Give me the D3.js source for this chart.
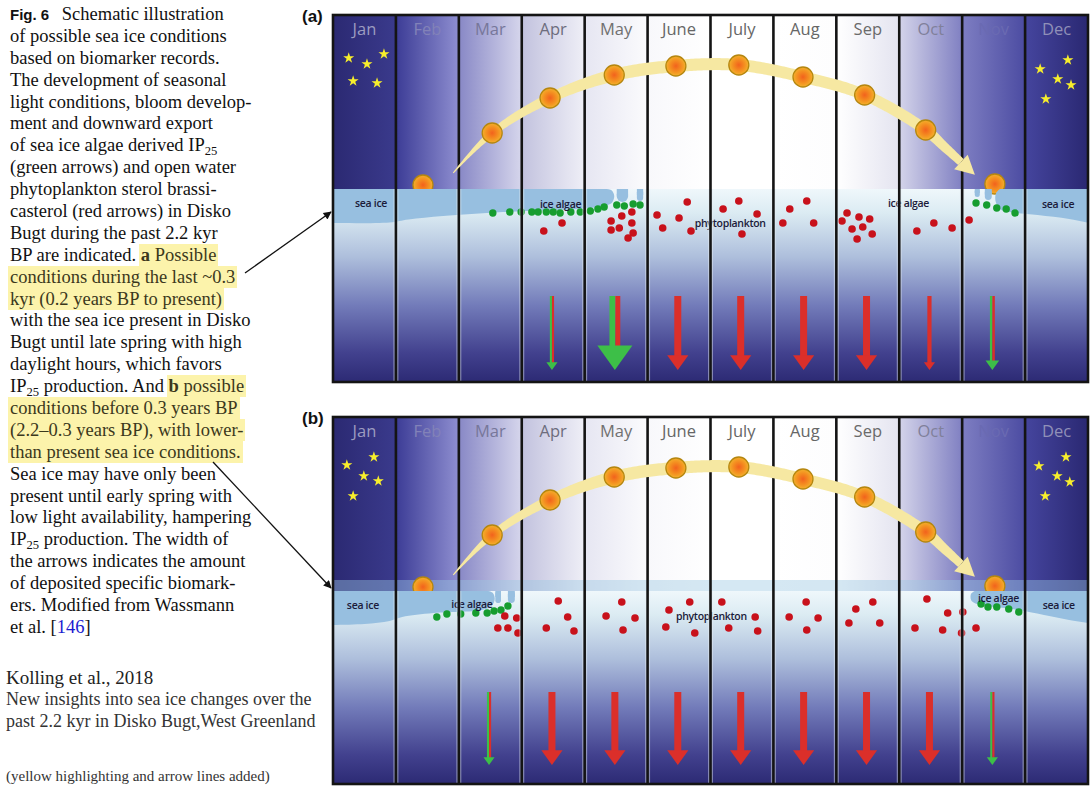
<!DOCTYPE html>
<html lang="en">
<head>
<meta charset="UTF-8">
<script src="https://d3js.org/d3.v7.min.js"></script>
<title>Schematic sea ice conditions, Disko Bugt</title>
<style>
    body { margin: 0; background: #fff; }
    #page { position: relative; width: 1092px; height: 796px; overflow: hidden; }
    #caption {
        position: absolute; left: 10px; top: 4px;
        font-family: "Liberation Serif", "Times New Roman", serif;
        font-size: 18.5px; line-height: 21.9px; color: #111; white-space: nowrap;
    }
    #caption .line { height: 21.9px; }
    .hl { background: #fcf3ab; color: #3b381c; padding: 1px 2px; margin: 0 -2px; }
    sub { font-size: 0.68em; line-height: 0; vertical-align: -0.28em; }
    .fig { font-family: "Liberation Sans", Arial, sans-serif; font-weight: bold; font-size: 15px; margin-right: 8px; }
    .ref { color: #1b1bd0; }
    .src { position: absolute; left: 6px; font-family: "Liberation Serif", "Times New Roman", serif; white-space: nowrap; }
    svg { position: absolute; left: 0; top: 0; }
</style>
</head>
<body>
<div id="page">
    <div id="caption"></div>
</div>
<script>
    const months = ["Jan", "Feb", "Mar", "Apr", "May", "June", "July", "Aug", "Sep", "Oct", "Nov", "Dec"];

    // sun: position in months (0 = start of Jan) and elevation above the sea surface
    const sunMonth = [1.43, 2.53, 3.45, 4.47, 5.45, 6.45, 7.47, 8.45, 9.42, 10.52];
    const sunElev  = [4, 56, 91, 114, 123, 124, 112, 94, 59, 5];
    const sunTrack = [[1.91, 16], [2.53, 56], [3.45, 91], [4.47, 114], [5.45, 123], [6.45, 124],
                      [7.47, 112], [8.45, 94], [9.42, 59], [9.72, 42], [9.98, 27]];

    // stars [month, elevation]
    const starsA = [[0.25, 131], [0.54, 125], [0.81, 135], [0.32, 108], [0.70, 106],
                    [11.24, 120], [11.68, 129], [11.52, 110], [11.73, 104], [11.33, 90]];
    const starsB = [[0.22, 126], [0.65, 134], [0.49, 115], [0.72, 110], [0.32, 95],
                    [11.22, 125], [11.65, 134], [11.51, 115], [11.71, 109], [11.32, 95]];

    // ice algae (green) and phytoplankton (red) cells [month, depth below surface]
    const greenA = [[2.54, 24], [2.81, 23], [2.99, 23], [3.16, 23], [3.26, 23], [3.39, 23], [3.50, 23],
                    [3.61, 24], [3.78, 23], [3.93, 23], [4.09, 22], [4.21, 20], [4.31, 18], [4.51, 16],
                    [4.63, 17], [4.77, 15], [4.88, 16],
                    [10.22, 14], [10.39, 16], [10.55, 19], [10.70, 20], [10.84, 24]];
    const redA = [[3.35, 42], [3.64, 34], [4.42, 32], [4.59, 27], [4.75, 23], [4.75, 34], [4.42, 41],
                  [4.55, 39], [4.77, 44], [4.69, 49],
                  [5.63, 13], [5.15, 26], [5.50, 29], [5.24, 39], [5.69, 42],
                  [6.45, 12], [6.20, 20], [6.74, 25], [6.50, 45],
                  [7.53, 12], [7.26, 20], [7.15, 34], [7.64, 34],
                  [8.17, 24], [8.36, 28], [8.53, 30], [8.09, 32], [8.42, 38], [8.25, 40], [8.57, 45], [8.33, 50],
                  [9.55, 34], [9.28, 42], [9.84, 39], [10.11, 31]];
    const greenB = [[1.65, 26], [1.81, 23], [2.03, 23], [2.27, 22], [2.45, 22], [2.56, 20], [2.67, 19], [2.78, 15],
                    [10.30, 13], [10.41, 16], [10.55, 16], [10.74, 18], [10.90, 21]];
    const redB = [[2.73, 25], [2.92, 27], [2.62, 37], [2.78, 37], [2.94, 42],
                  [3.58, 10], [3.73, 26], [3.39, 37], [3.83, 40],
                  [4.59, 11], [4.34, 25], [4.80, 27], [4.61, 39],
                  [5.67, 11], [5.34, 19], [5.29, 36], [5.75, 42],
                  [6.18, 11], [6.71, 26], [6.29, 37], [6.75, 40],
                  [7.52, 11], [7.25, 26], [7.71, 27], [7.53, 39],
                  [8.58, 11], [8.31, 18], [8.20, 32], [8.69, 32],
                  [9.44, 8], [9.77, 22], [9.25, 37], [9.69, 39], [10.01, 21], [9.99, 42], [10.22, 37]];

    // export of biomarkers per month (relative), drawn as arrow widths
    const redExportA   = [0, 0, 0, 0.3, 0.7, 1, 1, 1, 1, 0.6, 0.35, 0];
    const greenExportA = [0, 0, 0, 0.3, 0.85, 0, 0, 0, 0, 0, 0.35, 0];
    const redExportB   = [0, 0, 0.3, 1, 1, 1, 1, 1, 1, 1, 0.3, 0];
    const greenExportB = [0, 0, 0.3, 0, 0, 0, 0, 0, 0, 0, 0.3, 0];

    // sea ice outlines [month, depth]: from the ice edge at the surface round to the panel side
    const iceA = [
        [[4.35, 0], [4.43, 1.5], [4.47, 7], [4.43, 14], [4.3, 17], [3.9, 20], [2.7, 23],
         [1.75, 27], [1.2, 30.5], [0.9, 33.5], [-0.1, 34]],
        [[10.6, 0], [10.54, 4], [10.53, 12], [10.6, 20], [10.75, 23], [11.2, 26], [11.7, 30], [12.1, 35]]
    ];
    const floesA = [[4.51, 4.69, 13], [4.83, 4.93, 12], [10.20, 10.28, 8], [10.36, 10.47, 11]];
    const iceB = [
        [[2.47, 0], [2.54, 2], [2.57, 8], [2.52, 15], [2.36, 19], [1.6, 22], [1.1, 26],
         [0.9, 30], [0.5, 33], [-0.1, 34]],
        [[10.2, 0], [10.14, 3], [10.15, 10], [10.3, 14], [10.8, 18], [11.3, 24], [11.7, 29], [12.1, 33]]
    ];
    const floesB = [[2.58, 2.67, 12], [2.78, 2.89, 12]];

    const labelsA = [["sea ice", 0.35, 14], ["ice algae", 3.29, 15], ["phytoplankton", 5.75, 34],
                     ["ice algae", 8.82, 14], ["sea ice", 11.27, 15]];
    const labelsB = [["sea ice", 0.22, 14], ["ice algae", 1.88, 13], ["phytoplankton", 5.45, 25],
                     ["ice algae", 10.25, 7], ["sea ice", 11.28, 14]];

    const captionLines = [
        '<span class="fig">Fig. 6</span> Schematic illustration',
        'of possible sea ice conditions',
        'based on biomarker records.',
        'The development of seasonal',
        'light conditions, bloom develop-',
        'ment and downward export',
        'of sea ice algae derived IP<sub>25</sub>',
        '(green arrows) and open water',
        'phytoplankton sterol brassi-',
        'casterol (red arrows) in Disko',
        'Bugt during the past 2.2 kyr',
        'BP are indicated. <span class="hl"><b>a</b> Possible</span>',
        '<span class="hl">conditions during the last ~0.3</span>',
        '<span class="hl">kyr (0.2 years BP to present)</span>',
        'with the sea ice present in Disko',
        'Bugt until late spring with high',
        'daylight hours, which favors',
        'IP<sub>25</sub> production. And <span class="hl"><b>b</b> possible</span>',
        '<span class="hl">conditions before 0.3 years BP</span>',
        '<span class="hl">(2.2–0.3 years BP), with lower-</span>',
        '<span class="hl">than present sea ice conditions.</span>',
        'Sea ice may have only been',
        'present until early spring with',
        'low light availability, hampering',
        'IP<sub>25</sub> production. The width of',
        'the arrows indicates the amount',
        'of deposited specific biomark-',
        'ers. Modified from Wassmann',
        'et al. [<span class="ref">146</span>]'
    ];

    // ---- styles ----
    const skyPalette = [["#2b2972", "#3a3a8c"], ["#3c3c96", "#8e8ed0"], ["#8888c6", "#d6d6ec"], ["#c2c2de", "#efeff7"],
                        ["#e6e6f2", "#fbfbfd"], ["#f8f8fb", "#ffffff"], ["#ffffff", "#ffffff"], ["#ffffff", "#fdfdfe"],
                        ["#ffffff", "#e4e4f0"], ["#d4d4ea", "#8080c2"], ["#7e7ec2", "#4c4ca2"], ["#45459e", "#2a2872"]];
    const labelColors = ["#9c9cc0", "#8282b8", "#77779a", "#6d6d7d", "#707070", "#666", "#666", "#666",
                         "#6a6a6a", "#80809a", "#6a6ab2", "#9090b8"];
    const iceColor = "#97bfe0", bandColor = "#f6e8a2";

    d3.select("#caption").selectAll("div").data(captionLines).join("div")
        .attr("class", "line").html(d => d);

    const page = d3.select("#page");
    [["Kolling et al., 2018", 667, 19, "#222"],
     ["New insights into sea ice changes over the", 689, 18, "#333"],
     ["past 2.2 kyr in Disko Bugt,West Greenland", 711, 18, "#333"],
     ["(yellow highlighting and arrow lines added)", 768, 15, "#333"]].forEach(([t, top, fs, c]) => {
        page.append("div").attr("class", "src").style("top", top + "px")
            .style("font-size", fs + "px").style("color", c).text(t);
    });

    const svg = page.append("svg").attr("width", 1092).attr("height", 796);
    const defs = svg.append("defs");

    const left = 333, right = 1088, panelH = 367, surface = 174;
    const xM = d3.scaleLinear().domain([0, 12]).range([left, right]);
    const xBand = d3.scaleBand().domain(months).range([left, right]);
    const fluxWidth = d3.scaleLinear().domain([0, 1]).range([0, 7]);
    const bandWidth = d3.scaleLinear().domain([1.91, 2.53, 3.45, 4.47, 9.42, 9.98])
        .range([1, 7, 10, 12.5, 11, 8]).clamp(true);

    skyPalette.forEach((c, i) => {
        const g = defs.append("linearGradient").attr("id", "sky" + i).attr("x1", 0).attr("x2", 1).attr("y1", 0).attr("y2", 0);
        g.append("stop").attr("offset", 0).attr("stop-color", c[0]);
        g.append("stop").attr("offset", 1).attr("stop-color", c[1]);
    });
    const water = defs.append("linearGradient").attr("id", "water").attr("x1", 0).attr("x2", 0).attr("y1", 0).attr("y2", 1);
    [[0, "#eff7fb"], [0.12, "#dcecf3"], [0.35, "#aebfdc"], [0.6, "#737cba"], [0.85, "#42418e"], [1, "#2c2a74"]]
        .forEach(([o, c]) => water.append("stop").attr("offset", o).attr("stop-color", c));
    const sunGrad = defs.append("radialGradient").attr("id", "sun");
    [[0, "#f2621d"], [0.55, "#f48d20"], [1, "#f3b12b"]]
        .forEach(([o, c]) => sunGrad.append("stop").attr("offset", o).attr("stop-color", c));
    defs.append("marker").attr("id", "tip").attr("viewBox", "0 0 10 10").attr("refX", 9).attr("refY", 5)
        .attr("markerWidth", 11).attr("markerHeight", 8).attr("markerUnits", "userSpaceOnUse").attr("orient", "auto")
        .append("path").attr("d", "M0,0L10,5L0,10Z").attr("fill", "#111");

    function drawPanel(top, id, stars, green, red, redExp, greenExp, ice, floes, labels, arrowTop, arrowTip, stripe) {
        const y = d3.scaleLinear().domain([surface, surface - panelH]).range([top, top + panelH]);
        const g = svg.append("g");
        defs.append("clipPath").attr("id", "clip" + id).append("rect")
            .attr("x", left).attr("y", top).attr("width", right - left).attr("height", panelH);
        const body = g.append("g").attr("clip-path", `url(#clip${id})`);

        body.selectAll("rect.sky").data(months).join("rect").attr("class", "sky")
            .attr("x", d => xBand(d)).attr("y", y(surface)).attr("width", xBand.bandwidth())
            .attr("height", y(0) - y(surface)).attr("fill", (d, i) => `url(#sky${i})`);
        body.append("rect").attr("x", left).attr("y", y(0)).attr("width", right - left)
            .attr("height", y(surface - panelH) - y(0)).attr("fill", "url(#water)");
        if (stripe) body.append("rect").attr("x", left).attr("y", y(11)).attr("width", right - left)
            .attr("height", y(0) - y(11)).attr("fill", "#9cc8e2").attr("opacity", 0.42);

        // low suns sit behind the sea ice
        const suns = sunMonth.map((m, i) => [m, sunElev[i]]);
        const drawSuns = (sel, cls) => body.selectAll("circle." + cls).data(sel).join("circle").attr("class", cls)
            .attr("cx", d => xM(d[0])).attr("cy", d => y(d[1])).attr("r", 10)
            .attr("fill", "url(#sun)").attr("stroke", "#b5860f").attr("stroke-width", 1.3);
        drawSuns(suns.filter(d => d[1] < 20), "lowsun");

        const outline = d3.line().x(d => xM(d[0])).y(d => y(-d[1])).curve(d3.curveCatmullRom.alpha(0.5));
        body.selectAll("path.ice").data(ice).join("path").attr("class", "ice")
            .attr("d", d => outline(d) + `L${xM(d[d.length - 1][0])},${y(0)}Z`)
            .attr("fill", iceColor);
        floes.forEach(([m0, m1, d]) => {
            const w = xM(m1) - xM(m0);
            body.append("rect").attr("x", xM(m0)).attr("y", y(0)).attr("width", w)
                .attr("height", y(-d) - y(0)).attr("rx", w / 2).attr("fill", iceColor);
            body.append("rect").attr("x", xM(m0)).attr("y", y(0)).attr("width", w)
                .attr("height", (y(-d) - y(0)) / 2).attr("fill", iceColor);
        });

        body.selectAll("circle.green").data(green).join("circle").attr("class", "green")
            .attr("cx", d => xM(d[0])).attr("cy", d => y(-d[1])).attr("r", 3.7).attr("fill", "#169d2f");
        body.selectAll("circle.red").data(red).join("circle").attr("class", "red")
            .attr("cx", d => xM(d[0])).attr("cy", d => y(-d[1])).attr("r", 3.8).attr("fill", "#c8111b");

        body.selectAll("text.lab").data(labels).join("text").attr("class", "lab")
            .attr("x", d => xM(d[1])).attr("y", d => y(-d[2])).attr("dominant-baseline", "central")
            .attr("font-family", "'Open Sans', sans-serif").attr("font-weight", 600).attr("font-size", 10.5)
            .attr("letter-spacing", -0.3).attr("fill", "#1b1b3a").text(d => d[0]);

        // export arrows
        months.forEach((m, i) => {
            const r = fluxWidth(redExp[i]), gr = fluxWidth(greenExp[i]), w = r + gr;
            if (!w) return;
            const cx = xM(i + 0.48), hw = Math.max(10, 3.6 * w - 4), hl = 0.7 * hw;
            const yTop = y(-arrowTop), yTip = y(-arrowTip), yBase = yTip - hl;
            body.append("rect").attr("x", cx - w / 2).attr("y", yTop).attr("width", gr).attr("height", yBase - yTop + 1).attr("fill", "#3dbf48");
            body.append("rect").attr("x", cx - w / 2 + gr).attr("y", yTop).attr("width", r).attr("height", yBase - yTop + 1).attr("fill", "#db2f2a");
            body.append("path").attr("d", `M${cx - hw / 2},${yBase}L${cx + hw / 2},${yBase}L${cx},${yTip}Z`)
                .attr("fill", gr >= r ? "#3dbf48" : "#db2f2a");
        });

        // column dividers
        const cuts = d3.range(1, 12);
        body.selectAll("line.halo").data(cuts).join("line").attr("class", "halo")
            .attr("x1", d => xM(d)).attr("x2", d => xM(d)).attr("y1", y(0)).attr("y2", y(surface - panelH))
            .attr("stroke", "#e8f0f6").attr("stroke-width", 5).attr("opacity", 0.45);
        body.selectAll("line.cut").data(cuts).join("line").attr("class", "cut")
            .attr("x1", d => xM(d)).attr("x2", d => xM(d)).attr("y1", y(surface)).attr("y2", y(surface - panelH))
            .attr("stroke", "#141414").attr("stroke-width", 2.6);

        // sun path band with its arrowhead
        const pts = sunTrack.map(([m, e]) => [xM(m), y(e)]);
        const tmp = body.append("path").attr("d", d3.line().curve(d3.curveCatmullRom.alpha(0.5))(pts));
        const node = tmp.node(), L = node.getTotalLength();
        const samples = d3.range(0, L, 2).concat([L]).map(l => node.getPointAtLength(l));
        tmp.remove();
        const sideA = [], sideB = [];
        samples.forEach((p, i) => {
            const a = samples[Math.max(0, i - 1)], b = samples[Math.min(samples.length - 1, i + 1)];
            let dx = b.x - a.x, dy = b.y - a.y;
            const len = Math.hypot(dx, dy) || 1; dx /= len; dy /= len;
            const w = bandWidth(xM.invert(p.x)) / 2;
            sideA.push([p.x - dy * w, p.y + dx * w]);
            sideB.push([p.x + dy * w, p.y - dx * w]);
        });
        body.append("path").attr("d", d3.line()(sideA.concat(sideB.reverse())) + "Z").attr("fill", bandColor);
        const P = samples[samples.length - 1], Q = samples[samples.length - 4];
        let ux = P.x - Q.x, uy = P.y - Q.y; const ul = Math.hypot(ux, uy); ux /= ul; uy /= ul;
        body.append("path").attr("d", `M${P.x - uy * 10},${P.y + ux * 10}L${P.x + uy * 10},${P.y - ux * 10}L${P.x + ux * 19},${P.y + uy * 19}Z`)
            .attr("fill", bandColor);

        drawSuns(suns.filter(d => d[1] >= 20), "sun");

        body.selectAll("path.star").data(stars).join("path").attr("class", "star")
            .attr("transform", d => `translate(${xM(d[0])},${y(d[1])})`)
            .attr("d", d3.symbol().type(d3.symbolStar).size(38)).attr("fill", "#f7ee2c");

        g.selectAll("text.month").data(months).join("text").attr("class", "month")
            .attr("x", d => xBand(d) + xBand.bandwidth() / 2).attr("y", top + 20).attr("text-anchor", "middle")
            .attr("font-family", "'Open Sans', sans-serif").attr("font-size", 16.5)
            .attr("fill", (d, i) => labelColors[i]).text(d => d);

        g.append("rect").attr("x", left).attr("y", top).attr("width", right - left).attr("height", panelH)
            .attr("fill", "none").attr("stroke", "#141414").attr("stroke-width", 2.6);
        g.append("text").attr("x", 302).attr("y", top + 7).attr("font-family", "'Liberation Sans', Arial, sans-serif")
            .attr("font-weight", "bold").attr("font-size", 17).attr("fill", "#111").text(`(${id})`);
    }

    drawPanel(15, "a", starsA, greenA, redA, redExportA, greenExportA, iceA, floesA, labelsA, 107, 181, false);
    drawPanel(417, "b", starsB, greenB, redB, redExportB, greenExportB, iceB, floesB, labelsB, 101, 174, true);

    // annotation lines from caption to panels
    [[[245, 273], [331, 212]], [[213, 462], [331, 588]]].forEach(([a, b]) => {
        svg.append("line").attr("x1", a[0]).attr("y1", a[1]).attr("x2", b[0]).attr("y2", b[1])
            .attr("stroke", "#111").attr("stroke-width", 1.3).attr("marker-end", "url(#tip)");
    });
</script>
</body>
</html>
